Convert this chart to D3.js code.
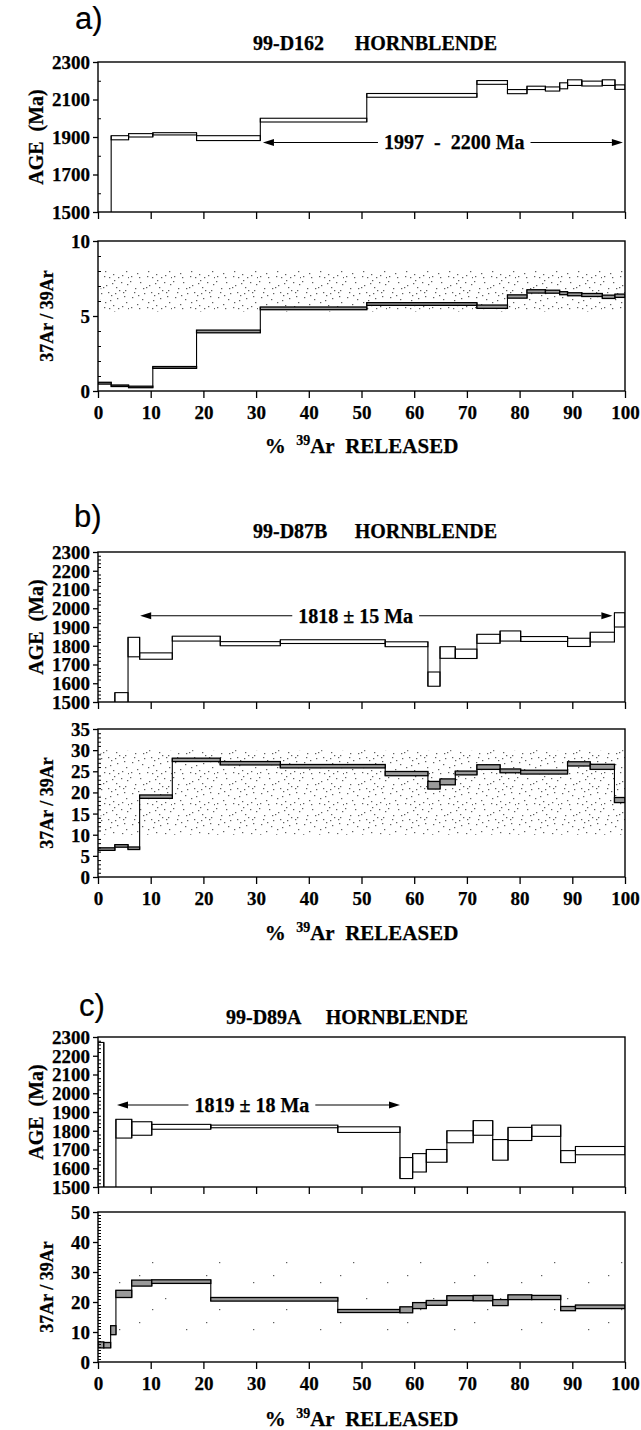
<!DOCTYPE html>
<html>
<head>
<meta charset="utf-8">
<script src="https://cdn.jsdelivr.net/npm/d3@7"></script>
<style>
  body { margin: 0; background: #fff; }
  text { font-family: "Liberation Serif", "Times New Roman", serif; font-weight: bold; fill: #000; stroke: #000; stroke-width: 0.25px; }
  .letter { font-family: "Liberation Sans", Arial, sans-serif; font-weight: normal; stroke-width: 0.2px; }
</style>
</head>
<body>
<svg id="fig" width="641" height="1430"></svg>
<script>
// ---------------------------------------------------------------
// 40Ar/39Ar step-heating spectra, three hornblende samples.
// Step boundaries are cumulative % 39Ar released; each step has an
// apparent age (Ma) with 1-sigma error and a 37Ar/39Ar ratio.
// ---------------------------------------------------------------

// a) 99-D162
const stepsA    = [0, 2.5, 5.8, 10.4, 18.7, 30.8, 51.0, 71.9, 77.7, 81.4, 84.9, 87.6, 89.1, 91.8, 95.7, 98.1, 100];
const ageA      = [1420, 1896, 1909, 1917, 1894, 1990, 2122, 2191, 2142, 2162, 2156, 2173, 2190, 2185, 2190, 2166];
const ageErrA   = [30, 11, 9, 6, 13, 10, 10, 10, 11, 9, 11, 16, 15, 13, 15, 12];
const ratioA    = [0.52, 0.35, 0.27, 1.57, 3.97, 5.51, 5.80, 5.62, 6.30, 6.64, 6.62, 6.52, 6.45, 6.40, 6.28, 6.35];
const ratioErrA = [0.06, 0.05, 0.05, 0.06, 0.09, 0.09, 0.09, 0.11, 0.11, 0.11, 0.10, 0.10, 0.10, 0.10, 0.11, 0.11];
const plateauA  = { label: "1997\u00a0\u00a0-\u00a0\u00a02200 Ma", from: 31.3, to: 99.6 };
const bandA     = [5.3, 8.0];

// b) 99-D87B
const stepsB    = [0, 3.2, 5.7, 7.9, 14.1, 23.2, 34.6, 54.5, 62.6, 64.9, 67.8, 71.9, 76.3, 80.2, 89.1, 93.4, 98.0, 100];
const ageB      = [1450, 1510, 1793, 1745, 1838, 1811, 1822, 1808, 1622, 1764, 1757, 1837, 1852, 1836, 1818, 1846, 1938];
const ageErrB   = [40, 40, 52, 17, 13, 11, 10, 13, 38, 31, 25, 24, 27, 13, 22, 26, 38];
const ratioB    = [6.6, 7.35, 6.8, 19.0, 27.7, 26.9, 26.2, 24.45, 21.7, 22.5, 24.6, 26.0, 25.1, 24.8, 26.75, 26.05, 18.2];
const ratioErrB = [0.3, 0.3, 0.3, 0.4, 0.4, 0.4, 0.4, 0.5, 0.9, 0.7, 0.45, 0.55, 0.45, 0.45, 0.5, 0.6, 0.6];
const plateauB  = { label: "1818 \u00b1 15 Ma", from: 8.0, to: 97.6 };
const bandB     = [10, 30];

// c) 99-D89A
const stepsC    = [0, 1.1, 2.4, 3.4, 6.4, 10.2, 21.4, 45.5, 57.3, 59.7, 62.3, 66.2, 71.2, 74.9, 77.8, 82.3, 87.8, 90.6, 100];
const ageC      = [1850, 1380, 1420, 1811, 1812, 1821, 1823, 1806, 1601, 1629, 1666, 1768, 1815, 1698, 1783, 1800, 1662, 1694];
const ageErrC   = [421, 40, 40, 50, 36, 13, 7, 15, 56, 49, 34, 32, 39, 55, 35, 30, 32, 22];
const ratioC    = [5.7, 5.6, 10.6, 22.7, 26.3, 26.8, 20.9, 17.0, 17.4, 18.8, 19.7, 21.3, 21.3, 19.8, 21.6, 21.5, 17.8, 18.4];
const ratioErrC = [1.0, 0.9, 1.5, 1.2, 1.0, 0.6, 0.6, 0.5, 1.0, 1.0, 0.8, 0.8, 0.9, 1.0, 0.8, 0.7, 0.7, 0.6];
const plateauC  = { label: "1819 \u00b1 18 Ma", from: 3.6, to: 57.3 };
const bandC     = [9, 35];

// axis tick labels
const xTicks       = [0, 10, 20, 30, 40, 50, 60, 70, 80, 90, 100];
const ageTicksA    = [1500, 1700, 1900, 2100, 2300];
const ageTicksBC   = [1500, 1600, 1700, 1800, 1900, 2000, 2100, 2200, 2300];
const ratioTicksA  = [0, 5, 10];
const ratioTicksB  = [0, 5, 10, 15, 20, 25, 30, 35];
const ratioTicksC  = [0, 10, 20, 30, 40, 50];

// ---------------------------------------------------------------
const svg = d3.select("#fig");
const defs = svg.append("defs");
const X0 = 98, X1 = 625;
const x = d3.scaleLinear().domain([0, 100]).range([X0, X1]);

// stipple fills for the reference 37Ar/39Ar range
function stipple(id, w, h, pts) {
  const p = defs.append("pattern").attr("id", id)
    .attr("patternUnits", "userSpaceOnUse").attr("width", w).attr("height", h);
  p.selectAll("rect").data(pts).join("rect")
    .attr("x", d => d[0]).attr("y", d => d[1])
    .attr("width", 1.3).attr("height", 1.2).attr("fill", "#5e5e5e");
}
stipple("dense", 43, 31, [
  [1, 2], [6, 9], [11, 3], [15, 14], [20, 6], [24, 21], [28, 1], [33, 11], [38, 17], [41, 5],
  [3, 18], [8, 25], [13, 20], [18, 28], [22, 13], [27, 26], [31, 19], [36, 27], [40, 23], [5, 13],
  [17, 8], [30, 8], [35, 3], [10, 29], [25, 16], [39, 11], [2, 28], [14, 9], [19, 23], [26, 4],
  [32, 29], [37, 13], [42, 29], [9, 16], [23, 29], [29, 14]
]);
stipple("sparse", 67, 47, [[5, 6], [31, 29], [52, 13], [18, 40]]);

let clipCount = 0;
function stepChart(opt) {
  const { top, height, domain, steps, val, err, labels, minorStep, boxFill, band, bandFill, xLabels } = opt;
  const bottom = top + height;
  const y = d3.scaleLinear().domain(domain).range([bottom, top]);
  const g = svg.append("g");

  const clipId = "clip" + (clipCount++);
  defs.append("clipPath").attr("id", clipId).append("rect")
    .attr("x", X0).attr("y", top).attr("width", X1 - X0).attr("height", height);
  const body = g.append("g").attr("clip-path", `url(#${clipId})`);

  if (band) {
    body.append("rect")
      .attr("x", x(0.5)).attr("width", x(100) - x(0.5))
      .attr("y", y(band[1])).attr("height", y(band[0]) - y(band[1]))
      .attr("fill", `url(#${bandFill})`);
  }

  const boxes = val.map((v, i) => ({ x0: steps[i], x1: steps[i + 1], lo: v - err[i], hi: v + err[i] }));

  // vertical joins between consecutive steps
  body.selectAll("line.join").data(boxes.slice(1)).join("line")
    .attr("x1", (d) => x(d.x0)).attr("x2", (d) => x(d.x0))
    .attr("y1", (d, i) => y(Math.min(d.lo, boxes[i].lo)))
    .attr("y2", (d, i) => y(Math.max(d.hi, boxes[i].hi)))
    .attr("stroke", "#000").attr("stroke-width", 1.1);

  body.selectAll("rect.step").data(boxes).join("rect")
    .attr("class", "step")
    .attr("x", d => x(d.x0)).attr("width", d => x(d.x1) - x(d.x0))
    .attr("y", d => y(d.hi)).attr("height", d => y(d.lo) - y(d.hi))
    .attr("fill", boxFill).attr("stroke", "#000").attr("stroke-width", boxFill === "none" ? 1.1 : 1.3);

  // frame
  g.append("rect").attr("x", X0).attr("y", top).attr("width", X1 - X0).attr("height", height)
    .attr("fill", "none").attr("stroke", "#000").attr("stroke-width", 1.4);

  // y axis: labelled ticks outward, minor ticks inward
  const yAxis = g.append("g").attr("transform", `translate(${X0},0)`)
    .call(d3.axisLeft(y).tickValues(labels).tickSize(5).tickPadding(3).tickFormat(d3.format("d")));
  yAxis.select(".domain").remove();
  yAxis.selectAll("line").attr("stroke-width", 1.3);
  yAxis.selectAll("text").attr("font-size", 19).attr("font-family", null).attr("dy", "0.34em");

  const minors = d3.range(domain[0], domain[1] + 1e-9, minorStep).filter(v => !labels.includes(v));
  const yMinor = g.append("g").attr("transform", `translate(${X0},0)`)
    .call(d3.axisRight(y).tickValues(minors).tickSize(3).tickFormat(""));
  yMinor.select(".domain").remove();
  yMinor.selectAll("line").attr("stroke-width", 1);

  // x axis ticks below the frame
  const xAxis = g.append("g").attr("transform", `translate(0,${bottom})`)
    .call(d3.axisBottom(x).tickValues(xTicks).tickSize(7).tickPadding(8)
      .tickFormat(xLabels ? d3.format("d") : ""));
  xAxis.select(".domain").remove();
  xAxis.selectAll("line").attr("stroke-width", 1.3);
  xAxis.selectAll("text").attr("font-size", 19).attr("font-family", null);

  return { g, y, bottom };
}

function plateau(g, y, level, p, center) {
  const yy = y(level);
  const t = g.append("text").attr("x", x(center)).attr("y", yy).attr("dy", "0.35em")
    .attr("text-anchor", "middle").attr("font-size", 20).text(p.label);
  const w = t.node().getComputedTextLength();
  const pad = 6, ah = 11, aw = 3.5;
  const l = x(p.from), r = x(p.to);
  g.append("line").attr("x1", l + ah).attr("x2", x(center) - w / 2 - pad)
    .attr("y1", yy).attr("y2", yy).attr("stroke", "#000").attr("stroke-width", 1.1);
  g.append("line").attr("x1", x(center) + w / 2 + pad).attr("x2", r - ah)
    .attr("y1", yy).attr("y2", yy).attr("stroke", "#000").attr("stroke-width", 1.1);
  g.append("path").attr("d", `M${l},${yy}L${l + ah},${yy - aw}L${l + ah},${yy + aw}Z`).attr("fill", "#000");
  g.append("path").attr("d", `M${r},${yy}L${r - ah},${yy - aw}L${r - ah},${yy + aw}Z`).attr("fill", "#000");
}

function panel(cfg) {
  svg.append("text").attr("class", "letter").attr("x", cfg.letterX).attr("y", cfg.letterY)
    .attr("font-size", 31).text(cfg.letter);
  svg.append("text").attr("x", cfg.titleX[0]).attr("y", cfg.titleY).attr("font-size", 20).text(cfg.title[0]);
  svg.append("text").attr("x", cfg.titleX[1]).attr("y", cfg.titleY).attr("font-size", 20)
    .attr("text-anchor", "end").text(cfg.title[1]);

  const age = stepChart({
    top: cfg.ageTop, height: 150, domain: [1500, 2300],
    steps: cfg.steps, val: cfg.age, err: cfg.ageErr,
    labels: cfg.ageTicks, minorStep: cfg.ageMinor, boxFill: "none", xLabels: false
  });
  plateau(age.g, age.y, cfg.plateauLevel, cfg.plateau, cfg.plateauCenter);

  const rat = stepChart({
    top: cfg.ratioTop, height: cfg.ratioH, domain: cfg.ratioDomain,
    steps: cfg.steps, val: cfg.ratio, err: cfg.ratioErr,
    labels: cfg.ratioTicks, minorStep: 1, boxFill: "#9a9a9a",
    band: cfg.band, bandFill: cfg.bandFill, xLabels: true
  });

  const midAge = cfg.ageTop + 75, midRat = cfg.ratioTop + cfg.ratioH / 2;
  svg.append("text").attr("transform", `translate(36,${midAge}) rotate(-90)`)
    .attr("text-anchor", "middle").attr("dy", "0.35em").attr("font-size", 20)
    .text("AGE\u00a0\u00a0(Ma)");
  svg.append("text").attr("transform", `translate(47,${midRat}) rotate(-90)`)
    .attr("text-anchor", "middle").attr("dy", "0.35em").attr("font-size", 18)
    .text("37Ar / 39Ar");

  const xt = svg.append("text").attr("x", (X0 + X1) / 2).attr("y", rat.bottom + cfg.xTitleGap)
    .attr("text-anchor", "middle").attr("font-size", 21);
  xt.append("tspan").text("%\u00a0\u00a0");
  xt.append("tspan").attr("font-size", 14).attr("dy", -8).text("39");
  xt.append("tspan").attr("dy", 8).text("Ar\u00a0\u00a0RELEASED");
}

panel({
  letter: "a)", letterX: 75, letterY: 29, title: ["99-D162", "HORNBLENDE"], titleX: [253, 497], titleY: 50,
  ageTop: 62, ratioTop: 241, ratioH: 150, xTitleGap: 62,
  steps: stepsA, age: ageA, ageErr: ageErrA, ratio: ratioA, ratioErr: ratioErrA,
  ageTicks: ageTicksA, ageMinor: 100, ratioDomain: [0, 10], ratioTicks: ratioTicksA,
  plateau: plateauA, plateauLevel: 1871, plateauCenter: 67.6, band: bandA, bandFill: "dense"
});
panel({
  letter: "b)", letterX: 74, letterY: 527, title: ["99-D87B", "HORNBLENDE"], titleX: [253, 497], titleY: 538,
  ageTop: 552, ratioTop: 729, ratioH: 148, xTitleGap: 63,
  steps: stepsB, age: ageB, ageErr: ageErrB, ratio: ratioB, ratioErr: ratioErrB,
  ageTicks: ageTicksBC, ageMinor: 20, ratioDomain: [0, 35], ratioTicks: ratioTicksB,
  plateau: plateauB, plateauLevel: 1960, plateauCenter: 48.9, band: bandB, bandFill: "dense"
});
panel({
  letter: "c)", letterX: 79, letterY: 1016, title: ["99-D89A", "HORNBLENDE"], titleX: [226, 468], titleY: 1024,
  ageTop: 1037, ratioTop: 1212, ratioH: 150, xTitleGap: 64,
  steps: stepsC, age: ageC, ageErr: ageErrC, ratio: ratioC, ratioErr: ratioErrC,
  ageTicks: ageTicksBC, ageMinor: 20, ratioDomain: [0, 50], ratioTicks: ratioTicksC,
  plateau: plateauC, plateauLevel: 1937, plateauCenter: 29.2, band: bandC, bandFill: "sparse"
});
</script>
</body>
</html>
